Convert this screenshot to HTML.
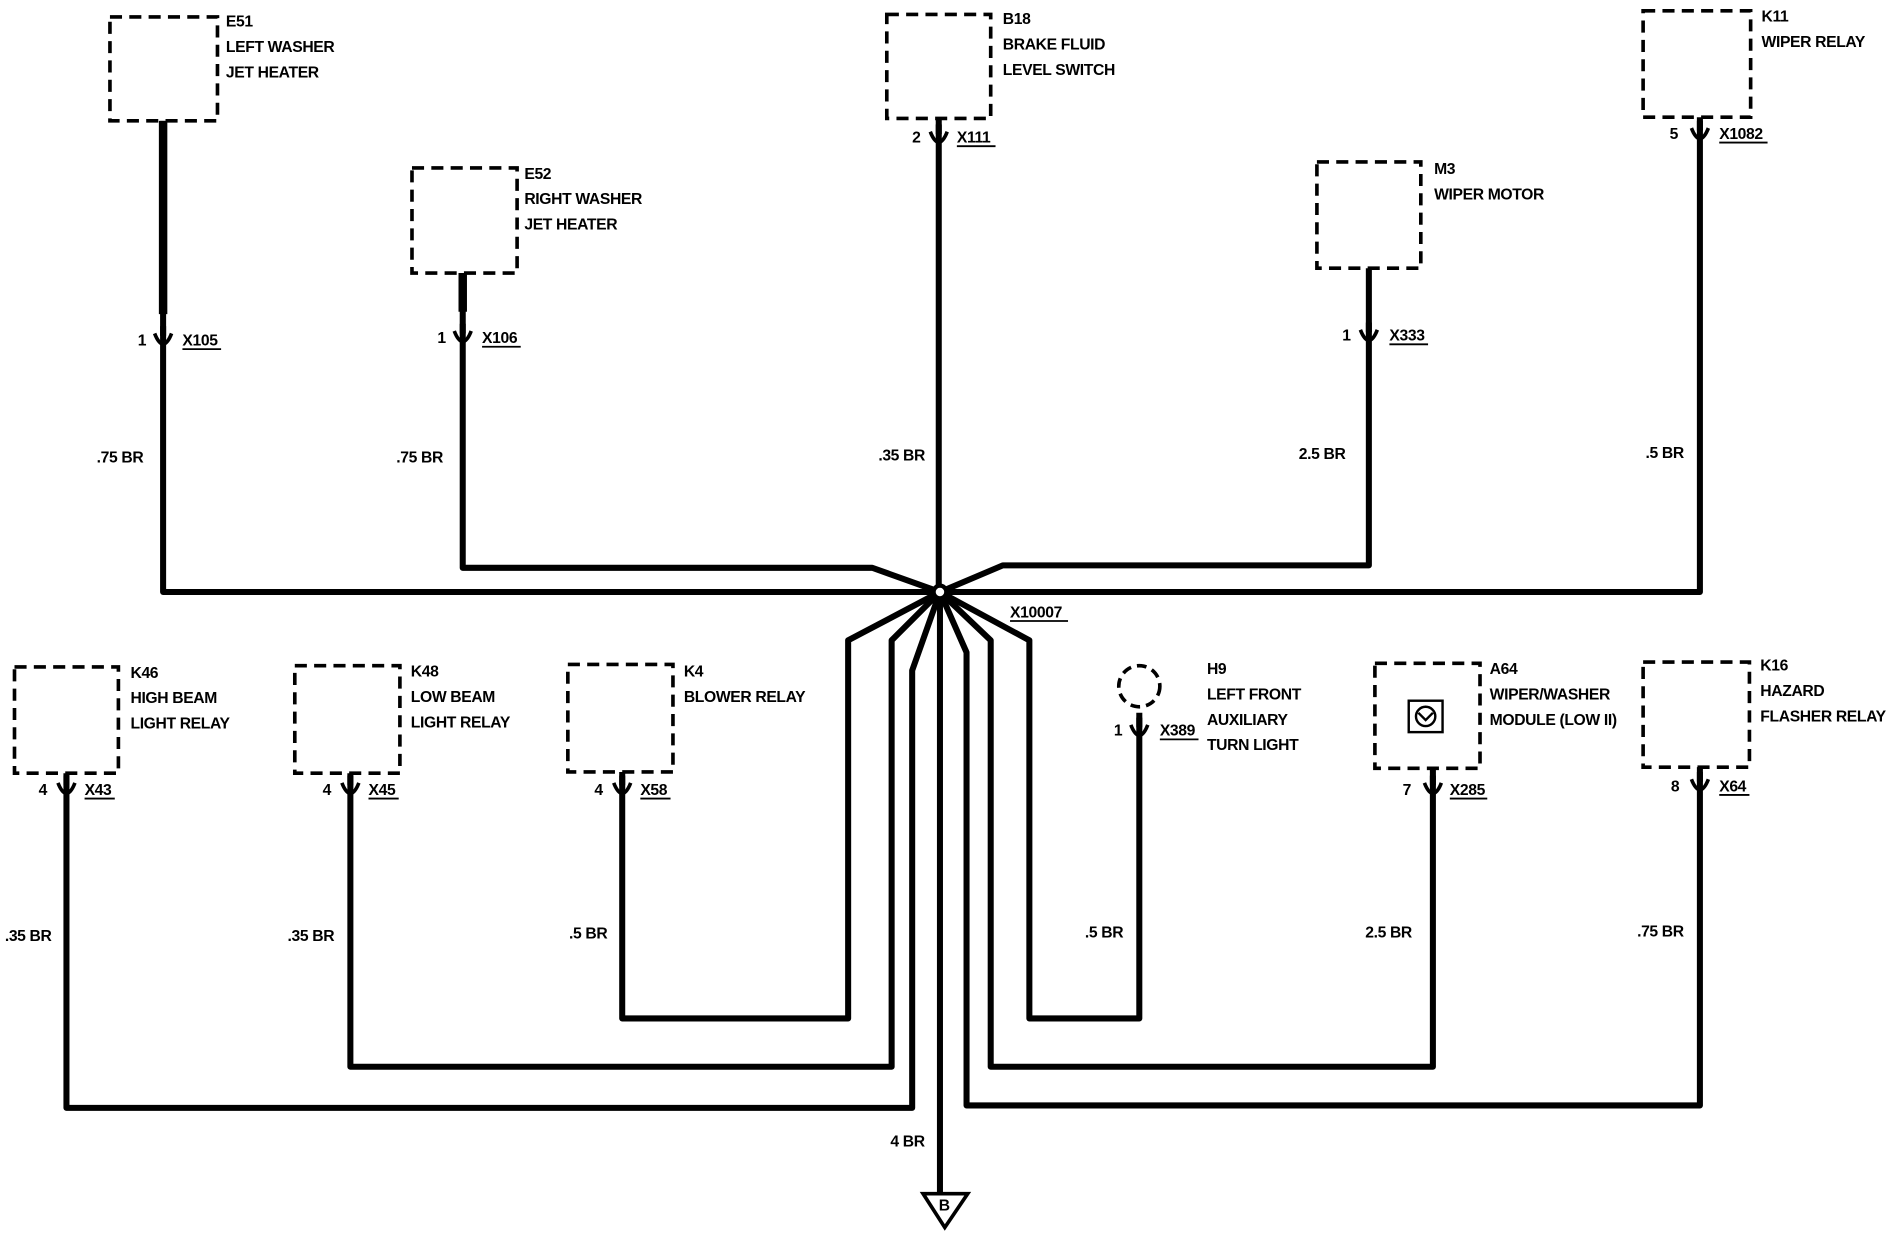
<!DOCTYPE html>
<html><head><meta charset="utf-8"><style>
html,body{margin:0;padding:0;background:#fff;}
svg{display:block}
text{font-family:"Liberation Sans",sans-serif;font-size:13px;font-weight:bold;fill:#000;letter-spacing:-0.3px;}
</style></head><body>
<svg width="1892" height="1248" viewBox="0 0 1566 1033" preserveAspectRatio="none" xmlns="http://www.w3.org/2000/svg">
<defs>
<g id="conn"><path d="M-7,-6 Q-4,2 0,3 Q4,2 7,-6" fill="none" stroke="#000" stroke-width="3"/><rect x="-2.5" y="-12" width="5" height="8" fill="#000"/></g>
</defs>
<g fill="none" stroke="#000" stroke-width="3" stroke-dasharray="10,6">
<rect x="91" y="14" width="89" height="86"/>
<rect x="341" y="139" width="87" height="87"/>
<rect x="734" y="12" width="86" height="86"/>
<rect x="1090" y="134" width="86" height="88"/>
<rect x="1360" y="9" width="89" height="88"/>
<rect x="12" y="552" width="86" height="88"/>
<rect x="244" y="551" width="87" height="89"/>
<rect x="470" y="550" width="87" height="89"/>
<circle cx="943" cy="568" r="17" stroke-dasharray="8,5"/>
<rect x="1138" y="549" width="87" height="87"/>
<rect x="1360" y="548" width="88" height="87"/>
</g>
<g fill="none" stroke="#000" stroke-width="5" stroke-linejoin="round">
<polyline points="135,100 135,490 778,490"/>
<polyline points="383,226 383,470 722,470 778,490"/>
<polyline points="777,98 777,490"/>
<polyline points="1133,222 1133,468 830,468 778,490"/>
<polyline points="1407,97 1407,490 778,490"/>
<polyline points="55,640 55,917 755,917 755,555 778,490"/>
<polyline points="290,640 290,883 738,883 738,530 778,490"/>
<polyline points="515,639 515,843 702,843 702,530 778,490"/>
<polyline points="943,590 943,843 852,843 852,530 778,490"/>
<polyline points="1186,636 1186,883 820,883 820,530 778,490"/>
<polyline points="1407,635 1407,915 800,915 800,540 778,490"/>
<polyline points="778,490 778,990"/>
</g>
<g stroke="#000" stroke-width="7">
<line x1="135" y1="100" x2="135" y2="260"/>
<line x1="383" y1="226" x2="383" y2="258"/>
</g>
<circle cx="778" cy="490" r="7" fill="#000"/>
<circle cx="778" cy="490" r="3.5" fill="#fff"/>
<polygon points="764,988 801,988 782,1016" fill="#fff" stroke="#000" stroke-width="3"/>
<text x="777" y="1002" font-size="11">B</text>
<use href="#conn" x="135" y="282"/>
<use href="#conn" x="383" y="280"/>
<use href="#conn" x="777" y="115"/>
<use href="#conn" x="1133" y="279"/>
<use href="#conn" x="1407" y="112"/>
<use href="#conn" x="55" y="654"/>
<use href="#conn" x="290" y="654"/>
<use href="#conn" x="515" y="654"/>
<use href="#conn" x="943" y="606"/>
<use href="#conn" x="1186" y="654"/>
<use href="#conn" x="1407" y="651"/>
<g fill="none" stroke="#000" stroke-width="2">
<rect x="1166" y="580" width="28" height="26"/>
<circle cx="1180" cy="593" r="8"/>
<path d="M1174,590 L1180,596 L1186,590"/>
</g>
<g stroke="#000" stroke-width="1.5">
<line x1="151" y1="289" x2="183" y2="289"/>
<line x1="399" y1="287" x2="431" y2="287"/>
<line x1="792" y1="121" x2="824" y2="121"/>
<line x1="1150" y1="285" x2="1182" y2="285"/>
<line x1="1423" y1="118" x2="1463" y2="118"/>
<line x1="70" y1="661" x2="95" y2="661"/>
<line x1="305" y1="661" x2="330" y2="661"/>
<line x1="530" y1="661" x2="555" y2="661"/>
<line x1="960" y1="612" x2="992" y2="612"/>
<line x1="1200" y1="661" x2="1231" y2="661"/>
<line x1="1423" y1="658" x2="1448" y2="658"/>
<line x1="836" y1="514" x2="884" y2="514"/>
</g>
<text x="187" y="22">E51</text><text x="187" y="43">LEFT WASHER</text><text x="187" y="64">JET HEATER</text>
<text x="434" y="148">E52</text><text x="434" y="169">RIGHT WASHER</text><text x="434" y="190">JET HEATER</text>
<text x="830" y="20">B18</text><text x="830" y="41">BRAKE FLUID</text><text x="830" y="62">LEVEL SWITCH</text>
<text x="1187" y="144">M3</text><text x="1187" y="165">WIPER MOTOR</text>
<text x="1458" y="18">K11</text><text x="1458" y="39">WIPER RELAY</text>
<text x="108" y="561">K46</text><text x="108" y="582">HIGH BEAM</text><text x="108" y="603">LIGHT RELAY</text>
<text x="340" y="560">K48</text><text x="340" y="581">LOW BEAM</text><text x="340" y="602">LIGHT RELAY</text>
<text x="566" y="560">K4</text><text x="566" y="581">BLOWER RELAY</text>
<text x="999" y="558">H9</text><text x="999" y="579">LEFT FRONT</text><text x="999" y="600">AUXILIARY</text><text x="999" y="621">TURN LIGHT</text>
<text x="1233" y="558">A64</text><text x="1233" y="579">WIPER/WASHER</text><text x="1233" y="600">MODULE (LOW II)</text>
<text x="1457" y="555">K16</text><text x="1457" y="576">HAZARD</text><text x="1457" y="597">FLASHER RELAY</text>
<text x="114" y="286">1</text><text x="151" y="286">X105</text><text x="80" y="383">.75 BR</text>
<text x="362" y="284">1</text><text x="399" y="284">X106</text><text x="328" y="383">.75 BR</text>
<text x="755" y="118">2</text><text x="792" y="118">X111</text><text x="727" y="381">.35 BR</text>
<text x="1111" y="282">1</text><text x="1150" y="282">X333</text><text x="1075" y="380">2.5 BR</text>
<text x="1382" y="115">5</text><text x="1423" y="115">X1082</text><text x="1362" y="379">.5 BR</text>
<text x="32" y="658">4</text><text x="70" y="658">X43</text><text x="4" y="779">.35 BR</text>
<text x="267" y="658">4</text><text x="305" y="658">X45</text><text x="238" y="779">.35 BR</text>
<text x="492" y="658">4</text><text x="530" y="658">X58</text><text x="471" y="777">.5 BR</text>
<text x="922" y="609">1</text><text x="960" y="609">X389</text><text x="898" y="776">.5 BR</text>
<text x="1161" y="658">7</text><text x="1200" y="658">X285</text><text x="1130" y="776">2.5 BR</text>
<text x="1383" y="655">8</text><text x="1423" y="655">X64</text><text x="1355" y="775">.75 BR</text>
<text x="836" y="511">X10007</text>
<text x="737" y="949">4 BR</text>
</svg>
</body></html>
